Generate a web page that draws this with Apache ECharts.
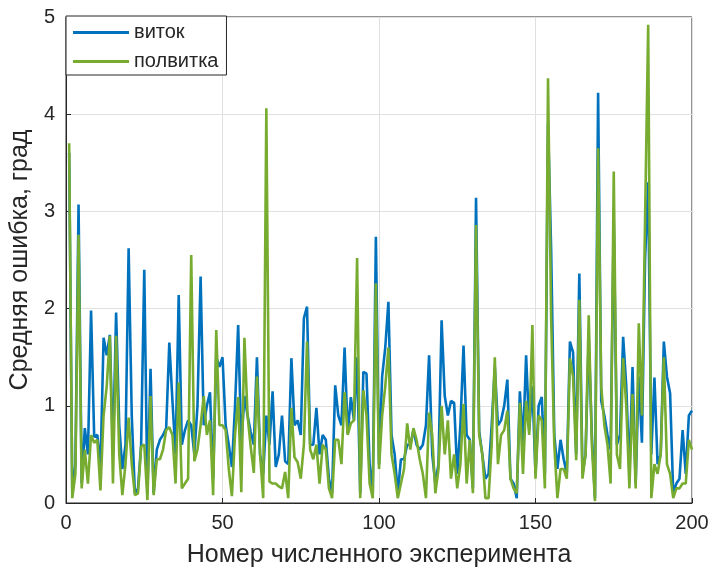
<!DOCTYPE html>
<html>
<head>
<meta charset="utf-8">
<script src="https://cdn.jsdelivr.net/npm/echarts@6/dist/echarts.min.js"></script>
<style>
html,body{margin:0;padding:0;background:#fff;}
#chart{width:715px;height:581px;}
</style>
</head>
<body>
<div id="chart"></div>
<script>
const seriesNames = ['виток', 'полвитка'];
const xTicks = [0, 50, 100, 150, 200];
const yTicks = [0, 1, 2, 3, 4, 5];
const vitok = [
3.6,0.1,0.4,3.07,0.2,0.77,0.5,1.98,0.68,0.7,
0.35,1.7,1.52,1.73,0.5,1.96,0.8,0.35,0.6,2.62,
0.9,0.1,0.15,0.6,2.4,0.1,1.38,0.1,0.55,0.65,
0.7,0.77,1.65,1.05,0.5,2.14,0.6,0.75,0.85,0.8,
0.5,1.0,2.33,0.8,1.0,1.14,0.25,1.5,1.4,1.5,
0.8,0.6,0.37,1.0,1.83,0.6,1.1,0.9,0.73,0.6,
1.5,0.5,0.3,0.9,0.6,1.15,0.37,0.5,0.9,0.43,
0.4,1.49,0.8,0.85,0.7,1.9,2.02,0.6,0.6,0.98,
0.5,0.7,0.65,0.25,0.1,1.21,0.9,0.8,1.6,0.71,
1.09,0.85,1.5,0.1,1.35,1.33,0.4,0.1,2.74,0.4,
1.3,1.6,2.07,0.7,0.5,0.1,0.45,0.45,0.6,0.6,
0.75,0.6,0.55,0.6,0.8,1.52,0.5,0.2,0.4,1.88,
1.1,0.9,1.05,1.03,0.3,0.8,1.62,0.7,0.65,0.15,
3.14,0.74,0.5,0.25,0.3,0.8,1.4,0.8,0.85,1.0,
1.27,0.25,0.2,0.05,1.15,0.6,1.52,0.75,1.2,0.3,
1.0,1.09,0.3,3.9,2.6,0.7,0.35,0.65,0.45,0.3,
1.66,1.55,0.5,2.36,0.3,0.5,1.7,0.7,0.05,4.22,
1.05,0.9,0.7,0.55,2.9,0.6,0.7,1.71,1.2,0.3,
1.4,0.2,1.3,0.62,2.5,3.3,0.5,1.29,0.4,0.5,
1.66,1.3,1.13,0.1,0.2,0.25,0.75,0.3,0.9,0.95
];
const polvitka = [
3.7,0.05,0.3,2.76,0.15,0.55,0.2,0.7,0.62,0.65,
0.13,0.9,1.2,1.72,0.2,1.72,0.5,0.08,0.4,0.88,
0.4,0.08,0.1,0.58,0.6,0.03,1.1,0.08,0.45,0.45,
0.55,0.75,0.78,0.7,0.2,1.24,0.15,0.2,0.25,2.55,
0.43,0.55,0.8,1.1,0.7,0.85,0.08,1.78,0.8,0.8,
0.75,0.35,0.07,0.7,1.09,0.11,1.7,0.9,0.58,0.31,
1.3,0.5,0.05,4.06,0.22,0.2,0.2,0.17,0.15,0.32,
0.05,0.98,0.47,0.42,0.25,0.6,1.66,0.55,0.45,0.6,
0.2,0.6,0.55,0.15,0.05,0.65,0.65,0.4,1.14,0.7,
0.82,0.85,2.52,0.05,1.16,0.9,0.2,0.05,2.26,0.35,
0.9,1.2,1.6,0.5,0.3,0.05,0.2,0.35,0.82,0.55,
0.77,0.65,0.45,0.3,0.05,0.93,0.7,0.1,0.35,1.0,
0.5,0.85,0.25,0.5,0.15,0.4,1.02,0.2,0.65,0.1,
2.86,0.7,0.5,0.05,0.05,0.6,1.5,0.4,0.7,0.75,
0.95,0.25,0.15,0.1,1.03,0.3,1.05,0.7,1.83,0.25,
0.9,0.85,0.15,4.37,1.9,0.6,0.05,0.35,0.35,0.25,
1.49,1.3,0.44,2.09,0.25,0.5,1.93,0.6,0.02,3.65,
1.2,0.8,0.6,0.2,3.41,0.5,0.35,1.49,1.0,0.15,
1.12,0.15,1.85,0.9,2.9,4.92,0.05,0.4,0.3,0.5,
1.5,0.4,0.3,0.05,0.15,0.15,0.2,0.2,0.65,0.55
];

function toPairs(arr){ return arr.map((v,i)=>[i+1, v]); }

const FONT = '"Liberation Sans", Arial, sans-serif';
const TXT = '#262626';
const chart = echarts.init(document.getElementById('chart'), null, {renderer:'canvas'});
chart.setOption({
  animation:false,
  backgroundColor:'#fff',
  grid:{left:66, right:23, top:17, bottom:78, show:true, borderColor:TXT, borderWidth:1, backgroundColor:'transparent'},
  legend:{
    left:66, top:16, orient:'vertical',
    data:seriesNames,
    backgroundColor:'#fff', borderColor:TXT, borderWidth:1, borderRadius:0,
    padding:[6,8,3,7], itemGap:8, itemWidth:56, itemHeight:3, icon:'rect',
    textStyle:{fontFamily:FONT, fontSize:20, color:TXT, lineHeight:21}
  },
  xAxis:{
    type:'value', min:xTicks[0], max:xTicks[xTicks.length-1], interval:50,
    name:'Номер численного эксперимента', nameLocation:'middle', nameGap:40,
    nameTextStyle:{fontFamily:FONT, fontSize:25, color:TXT},
    axisLine:{show:true, lineStyle:{color:TXT}},
    axisTick:{show:true, inside:true, length:5, lineStyle:{color:TXT}},
    axisLabel:{fontFamily:FONT, fontSize:20, color:TXT, margin:10},
    splitLine:{show:true, lineStyle:{color:'#e0e0e0', width:1}}
  },
  yAxis:{
    type:'value', min:yTicks[0], max:yTicks[yTicks.length-1], interval:1,
    name:'Средняя ошибка, град', nameLocation:'middle', nameGap:28,
    nameTextStyle:{fontFamily:FONT, fontSize:25, color:TXT},
    axisLine:{show:true, lineStyle:{color:TXT}},
    axisTick:{show:true, inside:true, length:5, lineStyle:{color:TXT}},
    axisLabel:{fontFamily:FONT, fontSize:20, color:TXT, margin:11},
    splitLine:{show:true, lineStyle:{color:'#e0e0e0', width:1}}
  },
  series:[
    {name:seriesNames[0], type:'line', data:toPairs(vitok), showSymbol:false, symbol:'none',
     lineStyle:{color:'#0072BD', width:2.6}, itemStyle:{color:'#0072BD'}},
    {name:seriesNames[1], type:'line', data:toPairs(polvitka), showSymbol:false, symbol:'none',
     lineStyle:{color:'#77AC30', width:2.6}, itemStyle:{color:'#77AC30'}}
  ]
});
</script>
</body>
</html>
